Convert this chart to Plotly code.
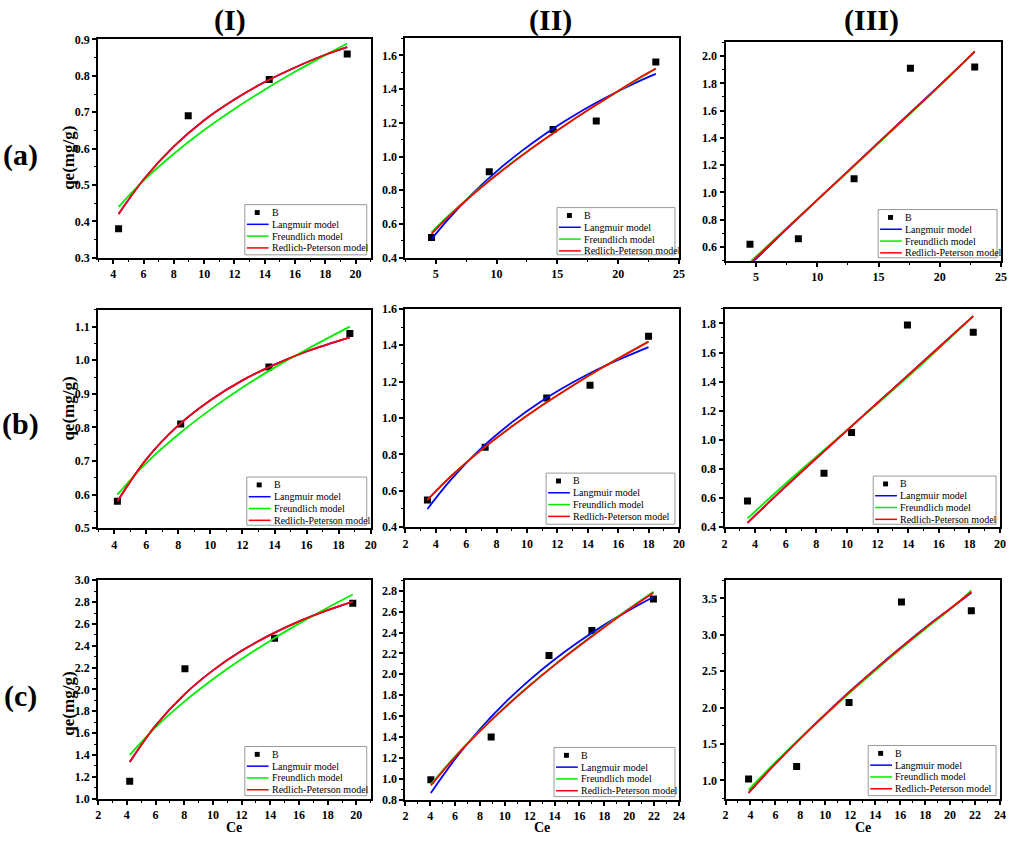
import plotly.graph_objects as go

W, H = 1010, 841

# ---------------- data ----------------
a1_ce = [4.35, 8.95, 14.3, 19.45]
a1_qe = [0.38, 0.69, 0.79, 0.86]
a1_fit_ce = [4.35, 6, 8, 10, 12, 14, 16, 18, 19.45]
a1_lang = [0.420, 0.515, 0.606, 0.678, 0.735, 0.783, 0.823, 0.858, 0.879]
a1_freu = [0.440, 0.512, 0.586, 0.651, 0.709, 0.762, 0.811, 0.857, 0.889]
a1_rp = [0.420, 0.515, 0.606, 0.678, 0.735, 0.783, 0.823, 0.858, 0.879]

a2_ce = [4.65, 9.4, 14.65, 18.2, 23.1]
a2_qe = [0.52, 0.91, 1.16, 1.21, 1.56]
a2_fit_ce = [4.65, 6, 8, 10, 12, 14, 16, 18, 20, 22, 23.1]
a2_lang = [0.510, 0.626, 0.779, 0.912, 1.029, 1.134, 1.227, 1.311, 1.387, 1.456, 1.490]
a2_freu = [0.550, 0.646, 0.776, 0.894, 1.003, 1.106, 1.204, 1.297, 1.387, 1.474, 1.520]
a2_rp = [0.542, 0.640, 0.772, 0.891, 1.001, 1.105, 1.204, 1.298, 1.389, 1.477, 1.522]

a3_ce = [4.5, 8.45, 13.0, 17.6, 22.85]
a3_qe = [0.62, 0.66, 1.10, 1.91, 1.92]
a3_fit_ce = [4.5, 8, 12, 16, 20, 22.85]
a3_lang = [0.47, 0.775, 1.115, 1.452, 1.787, 2.03]
a3_freu = [0.49, 0.78, 1.11, 1.445, 1.782, 2.035]
a3_rp = [0.48, 0.778, 1.113, 1.45, 1.785, 2.035]

b1_ce = [4.2, 8.15, 13.65, 18.7]
b1_qe = [0.58, 0.81, 0.98, 1.08]
b1_fit_ce = [4.2, 6, 8, 10, 12, 14, 16, 18.7]
b1_lang = [0.580, 0.705, 0.806, 0.881, 0.940, 0.987, 1.026, 1.068]
b1_freu = [0.600, 0.694, 0.779, 0.853, 0.919, 0.978, 1.032, 1.100]
b1_rp = [0.580, 0.705, 0.806, 0.881, 0.940, 0.987, 1.026, 1.068]

b2_ce = [3.45, 7.25, 11.3, 14.15, 18.0]
b2_qe = [0.55, 0.84, 1.11, 1.18, 1.45]
b2_fit_ce = [3.45, 5, 7, 9, 11, 13, 15, 18]
b2_lang = [0.500, 0.661, 0.835, 0.976, 1.095, 1.195, 1.282, 1.390]
b2_freu = [0.550, 0.680, 0.825, 0.953, 1.070, 1.178, 1.279, 1.420]
b2_rp = [0.550, 0.680, 0.825, 0.953, 1.070, 1.178, 1.279, 1.420]

b3_ce = [3.5, 8.5, 10.3, 13.95, 18.25]
b3_qe = [0.58, 0.77, 1.05, 1.79, 1.74]
b3_fit_ce = [3.5, 6, 9, 12, 15, 18.25]
b3_lang = [0.43, 0.68, 0.97, 1.255, 1.54, 1.85]
b3_freu = [0.46, 0.70, 0.975, 1.25, 1.53, 1.85]
b3_rp = [0.43, 0.68, 0.97, 1.255, 1.54, 1.85]

c1_ce = [4.2, 8.05, 14.3, 19.75]
c1_qe = [1.16, 2.19, 2.47, 2.79]
c1_fit_ce = [4.2, 6, 8, 10, 12, 14, 16, 18, 19.75]
c1_lang = [1.336, 1.669, 1.953, 2.175, 2.354, 2.500, 2.623, 2.726, 2.805]
c1_freu = [1.400, 1.652, 1.888, 2.093, 2.278, 2.447, 2.603, 2.749, 2.870]
c1_rp = [1.336, 1.669, 1.953, 2.175, 2.354, 2.500, 2.623, 2.726, 2.805]

c2_ce = [4.05, 8.9, 13.55, 17.0, 21.95]
c2_qe = [0.99, 1.40, 2.18, 2.42, 2.72]
c2_fit_ce = [4.05, 6, 8, 10, 12, 14, 16, 18, 20, 21.95]
c2_lang = [0.864, 1.188, 1.476, 1.726, 1.947, 2.142, 2.316, 2.473, 2.614, 2.740]
c2_freu = [0.945, 1.215, 1.461, 1.686, 1.895, 2.092, 2.278, 2.457, 2.629, 2.790]
c2_rp = [0.935, 1.207, 1.455, 1.681, 1.891, 2.088, 2.273, 2.451, 2.622, 2.780]

c3_ce = [3.85, 7.7, 11.9, 16.1, 21.7]
c3_qe = [1.02, 1.19, 2.07, 3.45, 3.33]
c3_fit_ce = [3.85, 6, 8, 10, 12, 14, 16, 18, 20, 21.7]
c3_lang = [0.83, 1.23, 1.58, 1.91, 2.23, 2.53, 2.82, 3.10, 3.36, 3.58]
c3_freu = [0.87, 1.25, 1.58, 1.90, 2.21, 2.51, 2.80, 3.08, 3.35, 3.61]
c3_rp = [0.83, 1.23, 1.575, 1.905, 2.225, 2.525, 2.815, 3.095, 3.36, 3.59]

series_names = ["B", "Langmuir model", "Freundlich model", "Redlich-Peterson model"]
row_labels = ["(a)", "(b)", "(c)"]
col_labels = ["(I)", "(II)", "(III)"]
y_title = "qe(mg/g)"
x_title = "Ce"

# ---------------- style ----------------
BLUE, GREEN, RED = "#0000FF", "#00EE00", "#FF0000"
SERIF = "Liberation Serif, Times New Roman, serif"

panels = [
    dict(ce=a1_ce, qe=a1_qe, fx=a1_fit_ce, L=a1_lang, F=a1_freu, R=a1_rp,
         xr=[3, 21], xd=2, yr=[0.3, 0.9], yd=0.1, px=(96, 371, 33, 255), leg=(244, 201)),
    dict(ce=a2_ce, qe=a2_qe, fx=a2_fit_ce, L=a2_lang, F=a2_freu, R=a2_rp,
         xr=[2.5, 25], xd=5, yr=[0.4, 1.7], yd=0.2, px=(406, 682, 32, 255), leg=(559, 204)),
    dict(ce=a3_ce, qe=a3_qe, fx=a3_fit_ce, L=a3_lang, F=a3_freu, R=a3_rp,
         xr=[2.5, 25], xd=5, yr=[0.5, 2.1], yd=0.2, px=(729, 1007, 36, 258), leg=(883, 206)),
    dict(ce=b1_ce, qe=b1_qe, fx=b1_fit_ce, L=b1_lang, F=b1_freu, R=b1_rp,
         xr=[3, 20], xd=2, yr=[0.5, 1.15], yd=0.1, px=(96, 371, 308, 530), leg=(246, 478)),
    dict(ce=b2_ce, qe=b2_qe, fx=b2_fit_ce, L=b2_lang, F=b2_freu, R=b2_rp,
         xr=[2, 20], xd=2, yr=[0.4, 1.6], yd=0.2, px=(406, 682, 307, 529), leg=(548, 474)),
    dict(ce=b3_ce, qe=b3_qe, fx=b3_fit_ce, L=b3_lang, F=b3_freu, R=b3_rp,
         xr=[2, 20], xd=2, yr=[0.4, 1.9], yd=0.2, px=(728, 1006, 307, 529), leg=(878, 477)),
    dict(ce=c1_ce, qe=c1_qe, fx=c1_fit_ce, L=c1_lang, F=c1_freu, R=c1_rp,
         xr=[2, 21], xd=2, yr=[1.0, 3.0], yd=0.2, px=(96, 371, 583, 805), leg=(244, 752)),
    dict(ce=c2_ce, qe=c2_qe, fx=c2_fit_ce, L=c2_lang, F=c2_freu, R=c2_rp,
         xr=[2, 24], xd=2, yr=[0.8, 2.9], yd=0.2, px=(406, 682, 583, 806), leg=(556, 753)),
    dict(ce=c3_ce, qe=c3_qe, fx=c3_fit_ce, L=c3_lang, F=c3_freu, R=c3_rp,
         xr=[2, 24], xd=2, yr=[0.75, 3.75], yd=0.5, px=(729, 1006, 583, 805), leg=(873, 751)),
]


def fx(px):
    return px / W


def fy(py):
    return 1 - py / H


fig = go.Figure()
shapes = []
annotations = []
tickfont = dict(family=SERIF, size=12, color="black", weight="bold")

for i, p in enumerate(panels, start=1):
    sfx = "" if i == 1 else str(i)
    xa, ya = "x" + sfx, "y" + sfx
    fig.add_trace(go.Scatter(x=p["ce"], y=p["qe"], mode="markers", name=series_names[0],
                             marker=dict(symbol="square", size=7, color="black"),
                             xaxis=xa, yaxis=ya, showlegend=False))
    for key, col, nm in (("L", BLUE, series_names[1]), ("F", GREEN, series_names[2]), ("R", RED, series_names[3])):
        fig.add_trace(go.Scatter(x=p["fx"], y=p[key], mode="lines", name=nm,
                                 line=dict(color=col, width=1.8, shape="spline"),
                                 xaxis=xa, yaxis=ya, showlegend=False))
    x0, x1, y0, y1 = p["px"]
    common = dict(showline=True, linecolor="black", linewidth=2, mirror=True,
                  ticks="outside", ticklen=4, tickwidth=1.5, tickcolor="black",
                  showgrid=False, zeroline=False, tickfont=tickfont)
    fig.update_layout(**{
        "xaxis" + sfx: dict(domain=[fx(x0), fx(x1)], anchor=ya, range=p["xr"],
                            dtick=p["xd"], tick0=0,
                            minor=dict(ticks="outside", ticklen=2, tickwidth=1,
                                       tickcolor="black", dtick=p["xd"] / 2, tick0=0),
                            **common),
        "yaxis" + sfx: dict(domain=[fy(y1), fy(y0)], anchor=xa, range=p["yr"],
                            dtick=p["yd"], tick0=0, tickformat=".1f",
                            minor=dict(ticks="outside", ticklen=2, tickwidth=1,
                                       tickcolor="black", dtick=p["yd"] / 2, tick0=0),
                            **common),
    })

    # manual legend box
    L, T = p["leg"]
    R, B = x1 - 4, y1 - 3
    shapes.append(dict(type="rect", xref="paper", yref="paper",
                       x0=fx(L), x1=fx(R), y0=fy(B), y1=fy(T),
                       line=dict(color="#9a9a9a", width=1), fillcolor="white"))
    rows = [T + 8, T + 20, T + 32, T + 44]
    shapes.append(dict(type="rect", xref="paper", yref="paper",
                       x0=fx(L + 10), x1=fx(L + 15), y0=fy(rows[0] + 2.5), y1=fy(rows[0] - 2.5),
                       line=dict(width=0), fillcolor="black"))
    for r, col in zip(rows[1:], (BLUE, GREEN, RED)):
        shapes.append(dict(type="line", xref="paper", yref="paper",
                           x0=fx(L + 2), x1=fx(L + 24), y0=fy(r), y1=fy(r),
                           line=dict(color=col, width=1.5)))
    for r, nm in zip(rows, series_names):
        annotations.append(dict(x=fx(L + 25), y=fy(r), xref="paper", yref="paper",
                                text=nm, showarrow=False, xanchor="left", yanchor="middle",
                                font=dict(family=SERIF, size=10, color="black")))

# column headers and row labels
col_centers = [229, 552, 876]
for c, t in zip(col_centers, col_labels):
    annotations.append(dict(x=fx(c), y=fy(13), xref="paper", yref="paper", text="<b>%s</b>" % t,
                            showarrow=False, xanchor="center", yanchor="middle",
                            font=dict(family=SERIF, size=30, color="black")))
row_centers = [151, 424, 701]
for r, t in zip(row_centers, row_labels):
    annotations.append(dict(x=fx(18), y=fy(r), xref="paper", yref="paper", text="<b>%s</b>" % t,
                            showarrow=False, xanchor="center", yanchor="middle",
                            font=dict(family=SERIF, size=30, color="black")))
# axis titles
for r in (153, 408, 708):
    annotations.append(dict(x=fx(66), y=fy(r), xref="paper", yref="paper", text="<b>%s</b>" % y_title,
                            showarrow=False, textangle=-90, xanchor="center", yanchor="middle",
                            font=dict(family=SERIF, size=17, color="black")))
for c in (233, 544, 868):
    annotations.append(dict(x=fx(c), y=fy(834), xref="paper", yref="paper", text="<b>%s</b>" % x_title,
                            showarrow=False, xanchor="center", yanchor="middle", borderpad=0,
                            font=dict(family=SERIF, size=14, color="black")))

fig.update_layout(width=W, height=H, autosize=False,
                  margin=dict(l=0, r=0, t=0, b=0),
                  plot_bgcolor="white", paper_bgcolor="white",
                  shapes=shapes, annotations=annotations, showlegend=False)

fig.write_html("out.html", config={"displayModeBar": False},
               post_script="document.body.style.margin='0';document.body.style.overflow='hidden';")
